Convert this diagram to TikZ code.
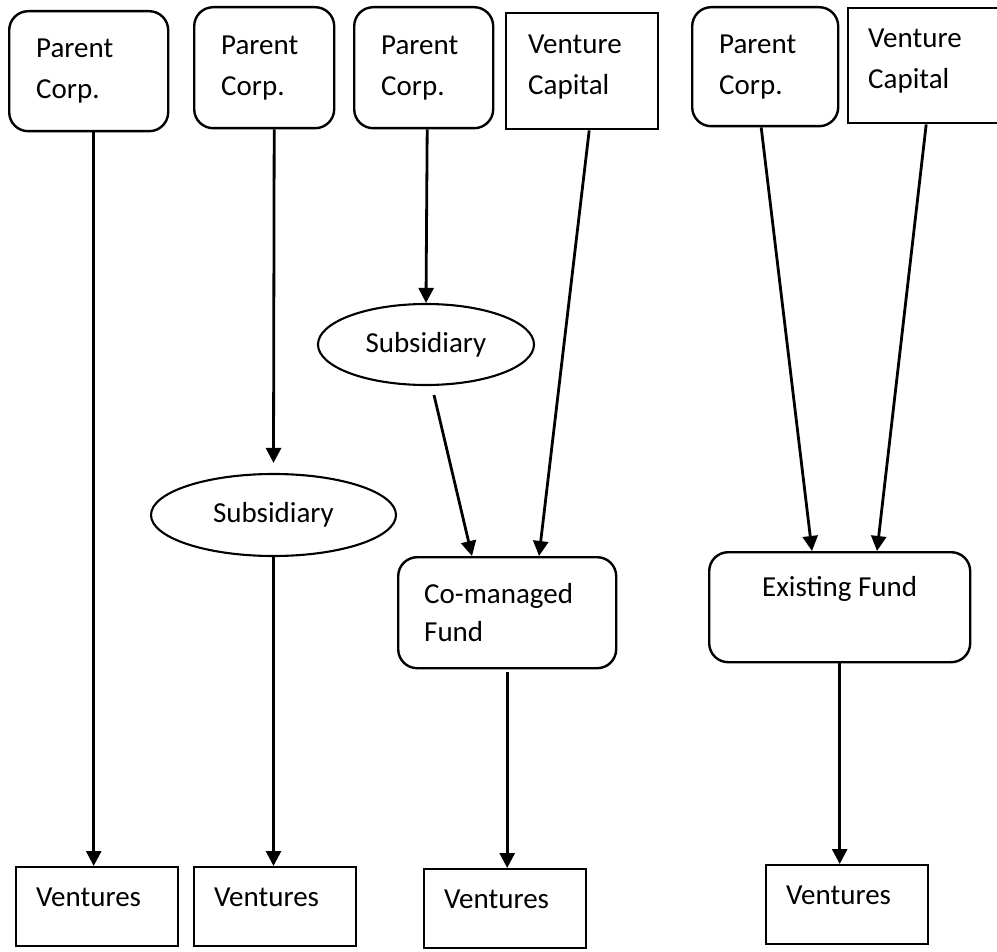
\documentclass[tikz,border=0pt]{standalone}
\usepackage{fontspec}
\setmainfont{Carlito}
\usetikzlibrary{arrows.meta,shapes.geometric,calc}
% invisible strut that deepens the last line of a label
\newcommand\deepline{\rule[-14pt]{0pt}{14pt}}
\begin{document}
\begin{tikzpicture}[x=1pt,y=-1pt,
  font=\fontsize{29}{41}\selectfont,
  box/.style={draw,line width=2.4pt,inner sep=0pt,anchor=north west,align=left},
  rbox/.style={box,rounded corners=19pt},
  oval/.style={ellipse,draw,line width=2.1pt,inner sep=0pt},
  vbox/.style={box,minimum width=162pt,minimum height=79pt,text width=122pt,
               text height=20pt,text depth=20pt},
  arr/.style={line width=2.8pt,-{Triangle[width=15pt,length=15pt]}}]
\useasboundingbox (0,0) rectangle (997,952);

% sources
\node[rbox,minimum width=159pt,minimum height=120pt,text width=105pt] (pc1) at (8,10) {Parent\\Corp.};
\node[rbox,minimum width=140pt,minimum height=121pt,text width=86pt] (pc2) at (193,6) {Parent\\Corp.};
\node[rbox,minimum width=139pt,minimum height=121pt,text width=85pt] (pc3) at (353,6) {Parent\\Corp.};
\node[box,minimum width=152pt,minimum height=116pt,text width=108pt] (vc1) at (505,12) {Venture\\Capital\deepline};
\node[rbox,minimum width=146pt,minimum height=119pt,text width=92pt] (pc4) at (691,6) {Parent\\Corp.};
\node[box,minimum width=156pt,minimum height=115pt,text width=116pt] (vc2) at (847,7) {Venture\\Capital\deepline};

% intermediate vehicles
\node[oval,minimum width=245pt,minimum height=82pt] (sub1) at (273.5,515) {Subsidiary};
\node[oval,minimum width=216pt,minimum height=81pt] (sub2) at (426,344.5) {Subsidiary};
\node[rbox,minimum width=218pt,minimum height=111pt,text width=166pt,
      font=\fontsize{29}{38}\selectfont] (cmf) at (397,556) {Co-managed\\Fund};
\node[rbox,minimum width=261pt,minimum height=110pt,align=center,
      text height=20pt,text depth=42pt] (ef) at (708,551) {Existing Fund};

% targets
\node[vbox] (v1) at (15,866) {Ventures};
\node[vbox] (v2) at (193,866) {Ventures};
\node[vbox] (v3) at (423,868) {Ventures};
\node[vbox] (v4) at (765,864) {Ventures};

% flows
\draw[arr] ([xshift=5pt]pc1.south) -- ([xshift=5pt]v1.north -| pc1.south);
\draw[arr] ([xshift=10pt]pc2.south) -- ([yshift=10pt]sub1.north);
\draw[arr] (sub1.south) -- (sub1.south |- v2.north);
\draw[arr] ([xshift=3.5pt]pc3.south) -- (sub2.north);
\draw[arr] ([xshift=8pt,yshift=-9pt]sub2.south) -- ([xshift=75pt]cmf.north west);
\draw[arr] ([xshift=7pt]vc1.south) -- ([xshift=142pt]cmf.north west);
\draw[arr] ([yshift=-3pt]cmf.south) -- (cmf.south |- v3.north);
\draw[arr] ([xshift=-4pt]pc4.south) -- ([xshift=104pt]ef.north west);
\draw[arr] (vc2.south) -- ([xshift=169pt]ef.north west);
\draw[arr] (ef.south) -- (ef.south |- v4.north);
\end{tikzpicture}
\end{document}
